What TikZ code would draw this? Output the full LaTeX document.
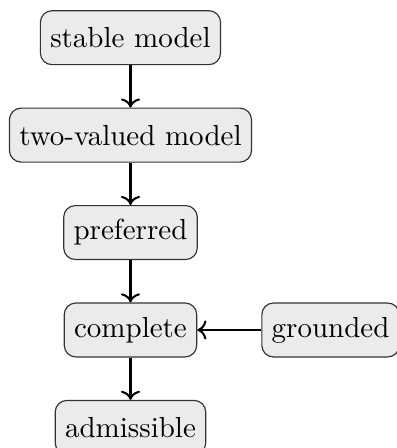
\documentclass[tikz,border=0pt]{standalone}
\usepackage{tikz}
\usetikzlibrary{arrows.meta,positioning}
\definecolor{boxfill}{HTML}{EBEBEB}

\begin{document}
\begin{tikzpicture}[x=1pt,y=1pt,
  sembox/.style={draw=black!80,fill=boxfill,rounded corners=4pt,minimum height=18.6pt,inner sep=3.4pt},
  impl/.style={->,line width=0.7pt}]
  \useasboundingbox (-45,-40.7) rectangle (91.9,113.8);
  % semantics, strongest first
  \node[sembox] (stable) at (0,100.8) {stable model};
  \node[sembox] (twoval) at (0,67.2) {two-valued model};
  \node[sembox] (pref) at (0,33.6) {preferred};
  \node[sembox] (comp) at (0,0) {complete};
  \node[sembox] (adm) at (0,-33.6) {admissible};
  \node[sembox] (grd) at (69,0) {grounded};

  % implications
  \draw[impl] (stable) -- (twoval);
  \draw[impl] (twoval) -- (pref);
  \draw[impl] (pref) -- (comp);
  \draw[impl] (comp) -- (adm);
  \draw[impl] (grd) -- (comp);
\end{tikzpicture}
\end{document}
